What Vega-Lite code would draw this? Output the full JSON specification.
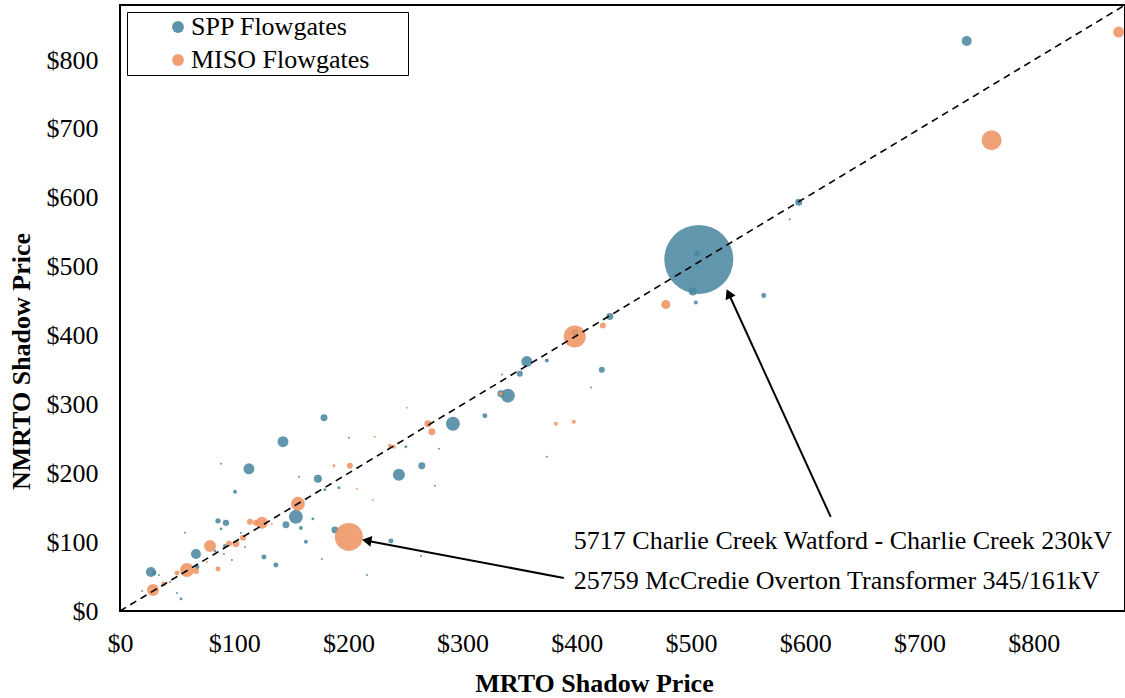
{
  "$schema": "https://vega.github.io/schema/vega-lite/v6.json",
  "width": 1005,
  "height": 606,
  "autosize": "none",
  "padding": {"left": 120, "top": 5, "right": 0, "bottom": 87},
  "background": "white",
  "config": {
    "view": {"stroke": "#000000", "strokeWidth": 2},
    "font": "Liberation Serif",
    "axis": {
      "domain": false, "ticks": false, "tickSize": 0, "grid": false,
      "labelFlush": false, "labelOverlap": false,
      "labelFont": "Liberation Serif", "labelFontSize": 26, "labelColor": "#000000",
      "titleFont": "Liberation Serif", "titleFontSize": 26, "titleFontWeight": "bold", "titleColor": "#000000"
    }
  },
  "datasets": {
    "flowgates": [
      {"market": "SPP Flowgates", "MRTO": 506.8, "NMRTO": 510.5, "hours": 11900},
      {"market": "SPP Flowgates", "MRTO": 154.0, "NMRTO": 136.7, "hours": 490},
      {"market": "SPP Flowgates", "MRTO": 291.5, "NMRTO": 272.0, "hours": 490},
      {"market": "SPP Flowgates", "MRTO": 339.6, "NMRTO": 312.7, "hours": 490},
      {"market": "SPP Flowgates", "MRTO": 244.2, "NMRTO": 197.8, "hours": 360},
      {"market": "SPP Flowgates", "MRTO": 112.9, "NMRTO": 206.5, "hours": 300},
      {"market": "SPP Flowgates", "MRTO": 142.7, "NMRTO": 245.8, "hours": 300},
      {"market": "SPP Flowgates", "MRTO": 356.2, "NMRTO": 362.2, "hours": 300},
      {"market": "SPP Flowgates", "MRTO": 27.1, "NMRTO": 56.7, "hours": 250},
      {"market": "SPP Flowgates", "MRTO": 66.5, "NMRTO": 82.9, "hours": 250},
      {"market": "SPP Flowgates", "MRTO": 741.4, "NMRTO": 827.6, "hours": 250},
      {"market": "SPP Flowgates", "MRTO": 173.3, "NMRTO": 192.0, "hours": 160},
      {"market": "SPP Flowgates", "MRTO": 501.5, "NMRTO": 464.0, "hours": 160},
      {"market": "SPP Flowgates", "MRTO": 145.3, "NMRTO": 125.1, "hours": 122},
      {"market": "SPP Flowgates", "MRTO": 178.6, "NMRTO": 280.7, "hours": 122},
      {"market": "SPP Flowgates", "MRTO": 188.2, "NMRTO": 117.8, "hours": 122},
      {"market": "SPP Flowgates", "MRTO": 264.3, "NMRTO": 210.9, "hours": 122},
      {"market": "SPP Flowgates", "MRTO": 333.5, "NMRTO": 315.6, "hours": 122},
      {"market": "SPP Flowgates", "MRTO": 398.2, "NMRTO": 404.4, "hours": 122},
      {"market": "SPP Flowgates", "MRTO": 428.9, "NMRTO": 427.6, "hours": 122},
      {"market": "SPP Flowgates", "MRTO": 594.3, "NMRTO": 593.5, "hours": 122},
      {"market": "SPP Flowgates", "MRTO": 92.8, "NMRTO": 128.0, "hours": 100},
      {"market": "SPP Flowgates", "MRTO": 350.1, "NMRTO": 344.7, "hours": 90},
      {"market": "SPP Flowgates", "MRTO": 421.9, "NMRTO": 350.5, "hours": 90},
      {"market": "SPP Flowgates", "MRTO": 505.0, "NMRTO": 519.3, "hours": 90},
      {"market": "SPP Flowgates", "MRTO": 85.8, "NMRTO": 130.9, "hours": 70},
      {"market": "SPP Flowgates", "MRTO": 29.8, "NMRTO": 55.3, "hours": 60},
      {"market": "SPP Flowgates", "MRTO": 67.4, "NMRTO": 64.0, "hours": 60},
      {"market": "SPP Flowgates", "MRTO": 126.0, "NMRTO": 78.5, "hours": 62},
      {"market": "SPP Flowgates", "MRTO": 136.5, "NMRTO": 66.9, "hours": 62},
      {"market": "SPP Flowgates", "MRTO": 237.2, "NMRTO": 101.8, "hours": 62},
      {"market": "SPP Flowgates", "MRTO": 319.5, "NMRTO": 283.6, "hours": 62},
      {"market": "SPP Flowgates", "MRTO": 563.7, "NMRTO": 458.2, "hours": 62},
      {"market": "SPP Flowgates", "MRTO": 91.9, "NMRTO": 94.5, "hours": 40},
      {"market": "SPP Flowgates", "MRTO": 100.7, "NMRTO": 173.1, "hours": 40},
      {"market": "SPP Flowgates", "MRTO": 158.4, "NMRTO": 120.7, "hours": 40},
      {"market": "SPP Flowgates", "MRTO": 162.8, "NMRTO": 100.4, "hours": 40},
      {"market": "SPP Flowgates", "MRTO": 373.7, "NMRTO": 363.6, "hours": 40},
      {"market": "SPP Flowgates", "MRTO": 504.2, "NMRTO": 448.0, "hours": 40},
      {"market": "SPP Flowgates", "MRTO": 53.4, "NMRTO": 17.5, "hours": 20},
      {"market": "SPP Flowgates", "MRTO": 83.2, "NMRTO": 87.3, "hours": 20},
      {"market": "SPP Flowgates", "MRTO": 88.4, "NMRTO": 119.3, "hours": 20},
      {"market": "SPP Flowgates", "MRTO": 179.4, "NMRTO": 176.0, "hours": 22},
      {"market": "SPP Flowgates", "MRTO": 168.9, "NMRTO": 133.8, "hours": 22},
      {"market": "SPP Flowgates", "MRTO": 191.7, "NMRTO": 178.9, "hours": 22},
      {"market": "SPP Flowgates", "MRTO": 250.3, "NMRTO": 238.5, "hours": 22},
      {"market": "SPP Flowgates", "MRTO": 34.1, "NMRTO": 52.4, "hours": 10},
      {"market": "SPP Flowgates", "MRTO": 19.3, "NMRTO": 29.1, "hours": 10},
      {"market": "SPP Flowgates", "MRTO": 43.8, "NMRTO": 42.2, "hours": 10},
      {"market": "SPP Flowgates", "MRTO": 49.9, "NMRTO": 26.2, "hours": 10},
      {"market": "SPP Flowgates", "MRTO": 91.0, "NMRTO": 82.9, "hours": 10},
      {"market": "SPP Flowgates", "MRTO": 105.9, "NMRTO": 113.5, "hours": 10},
      {"market": "SPP Flowgates", "MRTO": 56.9, "NMRTO": 113.5, "hours": 10},
      {"market": "SPP Flowgates", "MRTO": 88.4, "NMRTO": 213.8, "hours": 10},
      {"market": "SPP Flowgates", "MRTO": 176.8, "NMRTO": 75.6, "hours": 10},
      {"market": "SPP Flowgates", "MRTO": 156.7, "NMRTO": 194.9, "hours": 10},
      {"market": "SPP Flowgates", "MRTO": 263.5, "NMRTO": 80.0, "hours": 10},
      {"market": "SPP Flowgates", "MRTO": 216.2, "NMRTO": 52.4, "hours": 10},
      {"market": "SPP Flowgates", "MRTO": 200.4, "NMRTO": 251.6, "hours": 10},
      {"market": "SPP Flowgates", "MRTO": 279.2, "NMRTO": 235.6, "hours": 10},
      {"market": "SPP Flowgates", "MRTO": 275.7, "NMRTO": 181.8, "hours": 10},
      {"market": "SPP Flowgates", "MRTO": 412.3, "NMRTO": 324.4, "hours": 10},
      {"market": "SPP Flowgates", "MRTO": 373.7, "NMRTO": 224.0, "hours": 10},
      {"market": "SPP Flowgates", "MRTO": 334.4, "NMRTO": 343.3, "hours": 10},
      {"market": "SPP Flowgates", "MRTO": 586.4, "NMRTO": 568.7, "hours": 10},
      {"market": "SPP Flowgates", "MRTO": 98.0, "NMRTO": 74.2, "hours": 10},
      {"market": "SPP Flowgates", "MRTO": 109.4, "NMRTO": 93.1, "hours": 10},
      {"market": "MISO Flowgates", "MRTO": 200.4, "NMRTO": 107.6, "hours": 1960},
      {"market": "MISO Flowgates", "MRTO": 398.2, "NMRTO": 398.5, "hours": 1210},
      {"market": "MISO Flowgates", "MRTO": 763.2, "NMRTO": 683.6, "hours": 1000},
      {"market": "MISO Flowgates", "MRTO": 58.6, "NMRTO": 59.6, "hours": 490},
      {"market": "MISO Flowgates", "MRTO": 155.8, "NMRTO": 155.6, "hours": 490},
      {"market": "MISO Flowgates", "MRTO": 28.9, "NMRTO": 30.5, "hours": 360},
      {"market": "MISO Flowgates", "MRTO": 78.8, "NMRTO": 94.5, "hours": 360},
      {"market": "MISO Flowgates", "MRTO": 124.3, "NMRTO": 128.0, "hours": 360},
      {"market": "MISO Flowgates", "MRTO": 874.4, "NMRTO": 840.7, "hours": 300},
      {"market": "MISO Flowgates", "MRTO": 477.9, "NMRTO": 445.1, "hours": 200},
      {"market": "MISO Flowgates", "MRTO": 101.5, "NMRTO": 97.5, "hours": 122},
      {"market": "MISO Flowgates", "MRTO": 269.6, "NMRTO": 272.0, "hours": 122},
      {"market": "MISO Flowgates", "MRTO": 273.1, "NMRTO": 260.4, "hours": 122},
      {"market": "MISO Flowgates", "MRTO": 66.5, "NMRTO": 58.2, "hours": 90},
      {"market": "MISO Flowgates", "MRTO": 95.4, "NMRTO": 97.5, "hours": 90},
      {"market": "MISO Flowgates", "MRTO": 107.7, "NMRTO": 106.2, "hours": 90},
      {"market": "MISO Flowgates", "MRTO": 113.8, "NMRTO": 129.5, "hours": 90},
      {"market": "MISO Flowgates", "MRTO": 119.0, "NMRTO": 128.0, "hours": 90},
      {"market": "MISO Flowgates", "MRTO": 201.3, "NMRTO": 210.9, "hours": 90},
      {"market": "MISO Flowgates", "MRTO": 422.8, "NMRTO": 414.5, "hours": 90},
      {"market": "MISO Flowgates", "MRTO": 38.5, "NMRTO": 39.3, "hours": 62},
      {"market": "MISO Flowgates", "MRTO": 49.9, "NMRTO": 55.3, "hours": 62},
      {"market": "MISO Flowgates", "MRTO": 85.8, "NMRTO": 61.1, "hours": 62},
      {"market": "MISO Flowgates", "MRTO": 236.3, "NMRTO": 240.0, "hours": 40},
      {"market": "MISO Flowgates", "MRTO": 239.8, "NMRTO": 238.5, "hours": 40},
      {"market": "MISO Flowgates", "MRTO": 333.5, "NMRTO": 315.6, "hours": 40},
      {"market": "MISO Flowgates", "MRTO": 381.6, "NMRTO": 272.0, "hours": 40},
      {"market": "MISO Flowgates", "MRTO": 397.4, "NMRTO": 274.9, "hours": 40},
      {"market": "MISO Flowgates", "MRTO": 187.3, "NMRTO": 210.9, "hours": 22},
      {"market": "MISO Flowgates", "MRTO": 76.1, "NMRTO": 71.3, "hours": 10},
      {"market": "MISO Flowgates", "MRTO": 133.0, "NMRTO": 126.5, "hours": 10},
      {"market": "MISO Flowgates", "MRTO": 251.2, "NMRTO": 295.3, "hours": 10},
      {"market": "MISO Flowgates", "MRTO": 223.2, "NMRTO": 253.1, "hours": 10},
      {"market": "MISO Flowgates", "MRTO": 221.4, "NMRTO": 161.5, "hours": 10},
      {"market": "MISO Flowgates", "MRTO": 207.4, "NMRTO": 177.5, "hours": 10}
    ],
    "parity": [
      {"a": 0, "b": 0, "a2": 880, "b2": 880}
    ],
    "arrows": [
      {"x1": 622.3, "y1": 136.7, "x2": 533.5, "y2": 458.9, "angle": 335.4},
      {"x1": 388.6, "y1": 48.0, "x2": 217.4, "y2": 101.8, "angle": 280.7}
    ],
    "notes": [
      {"x": 397.4, "y": 101.7, "label": "5717 Charlie Creek Watford - Charlie Creek 230kV"},
      {"x": 397.4, "y": 43.6, "label": "25759 McCredie Overton Transformer 345/161kV"}
    ]
  },
  "layer": [
    {
      "data": {"name": "flowgates"},
      "mark": {"type": "circle", "opacity": 0.88},
      "encoding": {
        "x": {
          "field": "MRTO", "type": "quantitative",
          "scale": {"domain": [0, 880], "nice": false, "zero": true},
          "axis": {"title": "MRTO Shadow Price", "values": [0, 100, 200, 300, 400, 500, 600, 700, 800], "labelExpr": "'$' + datum.value", "labelPadding": 19, "titlePadding": 14, "titleX": 474, "titleAlign": "center"}
        },
        "y": {
          "field": "NMRTO", "type": "quantitative",
          "scale": {"domain": [0, 880], "nice": false, "zero": true},
          "axis": {"title": "NMRTO Shadow Price", "values": [0, 100, 200, 300, 400, 500, 600, 700, 800], "labelExpr": "'$' + datum.value", "labelPadding": 22, "titlePadding": 12, "titleY": 356, "titleAlign": "center"}
        },
        "size": {
          "field": "hours", "type": "quantitative",
          "scale": {"domain": [0, 12000], "range": [0, 4800]},
          "legend": null
        },
        "color": {
          "field": "market", "type": "nominal",
          "scale": {"domain": ["SPP Flowgates", "MISO Flowgates"], "range": ["#4b87a1", "#ef9463"]},
          "legend": {
            "title": ".", "titleOrient": "right", "titlePadding": 30, "titleOpacity": 0,
            "titleFont": "Liberation Serif", "titleFontSize": 26,
            "orient": "none", "legendX": 7, "legendY": 7,
            "strokeColor": "#000000", "fillColor": "white",
            "padding": 2, "symbolOffset": 36, "labelOffset": 0,
            "symbolType": "circle", "symbolSize": 140, "symbolOpacity": 0.9,
            "labelFont": "Liberation Serif", "labelFontSize": 26, "labelColor": "#000000",
            "rowPadding": 7, "labelLimit": 500
          }
        }
      }
    },
    {
      "data": {"name": "parity"},
      "mark": {"type": "rule", "color": "#000000", "strokeWidth": 1.6, "strokeDash": [7, 5]},
      "encoding": {
        "x": {"field": "a", "type": "quantitative", "axis": {"title": "MRTO Shadow Price"}},
        "y": {"field": "b", "type": "quantitative", "axis": {"title": "NMRTO Shadow Price"}},
        "x2": {"field": "a2"},
        "y2": {"field": "b2"}
      }
    },
    {
      "data": {"name": "arrows"},
      "mark": {"type": "rule", "color": "#000000", "strokeWidth": 2},
      "encoding": {
        "x": {"field": "x1", "type": "quantitative", "axis": {"title": "MRTO Shadow Price"}},
        "y": {"field": "y1", "type": "quantitative", "axis": {"title": "NMRTO Shadow Price"}},
        "x2": {"field": "x2"},
        "y2": {"field": "y2"}
      }
    },
    {
      "data": {"name": "arrows"},
      "mark": {"type": "point", "shape": "triangle", "filled": true, "color": "#000000", "opacity": 1, "size": 120},
      "encoding": {
        "x": {"field": "x2", "type": "quantitative", "axis": {"title": "MRTO Shadow Price"}},
        "y": {"field": "y2", "type": "quantitative", "axis": {"title": "NMRTO Shadow Price"}},
        "angle": {"field": "angle", "type": "quantitative", "scale": null}
      }
    },
    {
      "data": {"name": "notes"},
      "mark": {"type": "text", "align": "left", "baseline": "middle", "font": "Liberation Serif", "fontSize": 26, "color": "#000000"},
      "encoding": {
        "x": {"field": "x", "type": "quantitative", "axis": {"title": "MRTO Shadow Price"}},
        "y": {"field": "y", "type": "quantitative", "axis": {"title": "NMRTO Shadow Price"}},
        "text": {"field": "label"}
      }
    }
  ]
}
